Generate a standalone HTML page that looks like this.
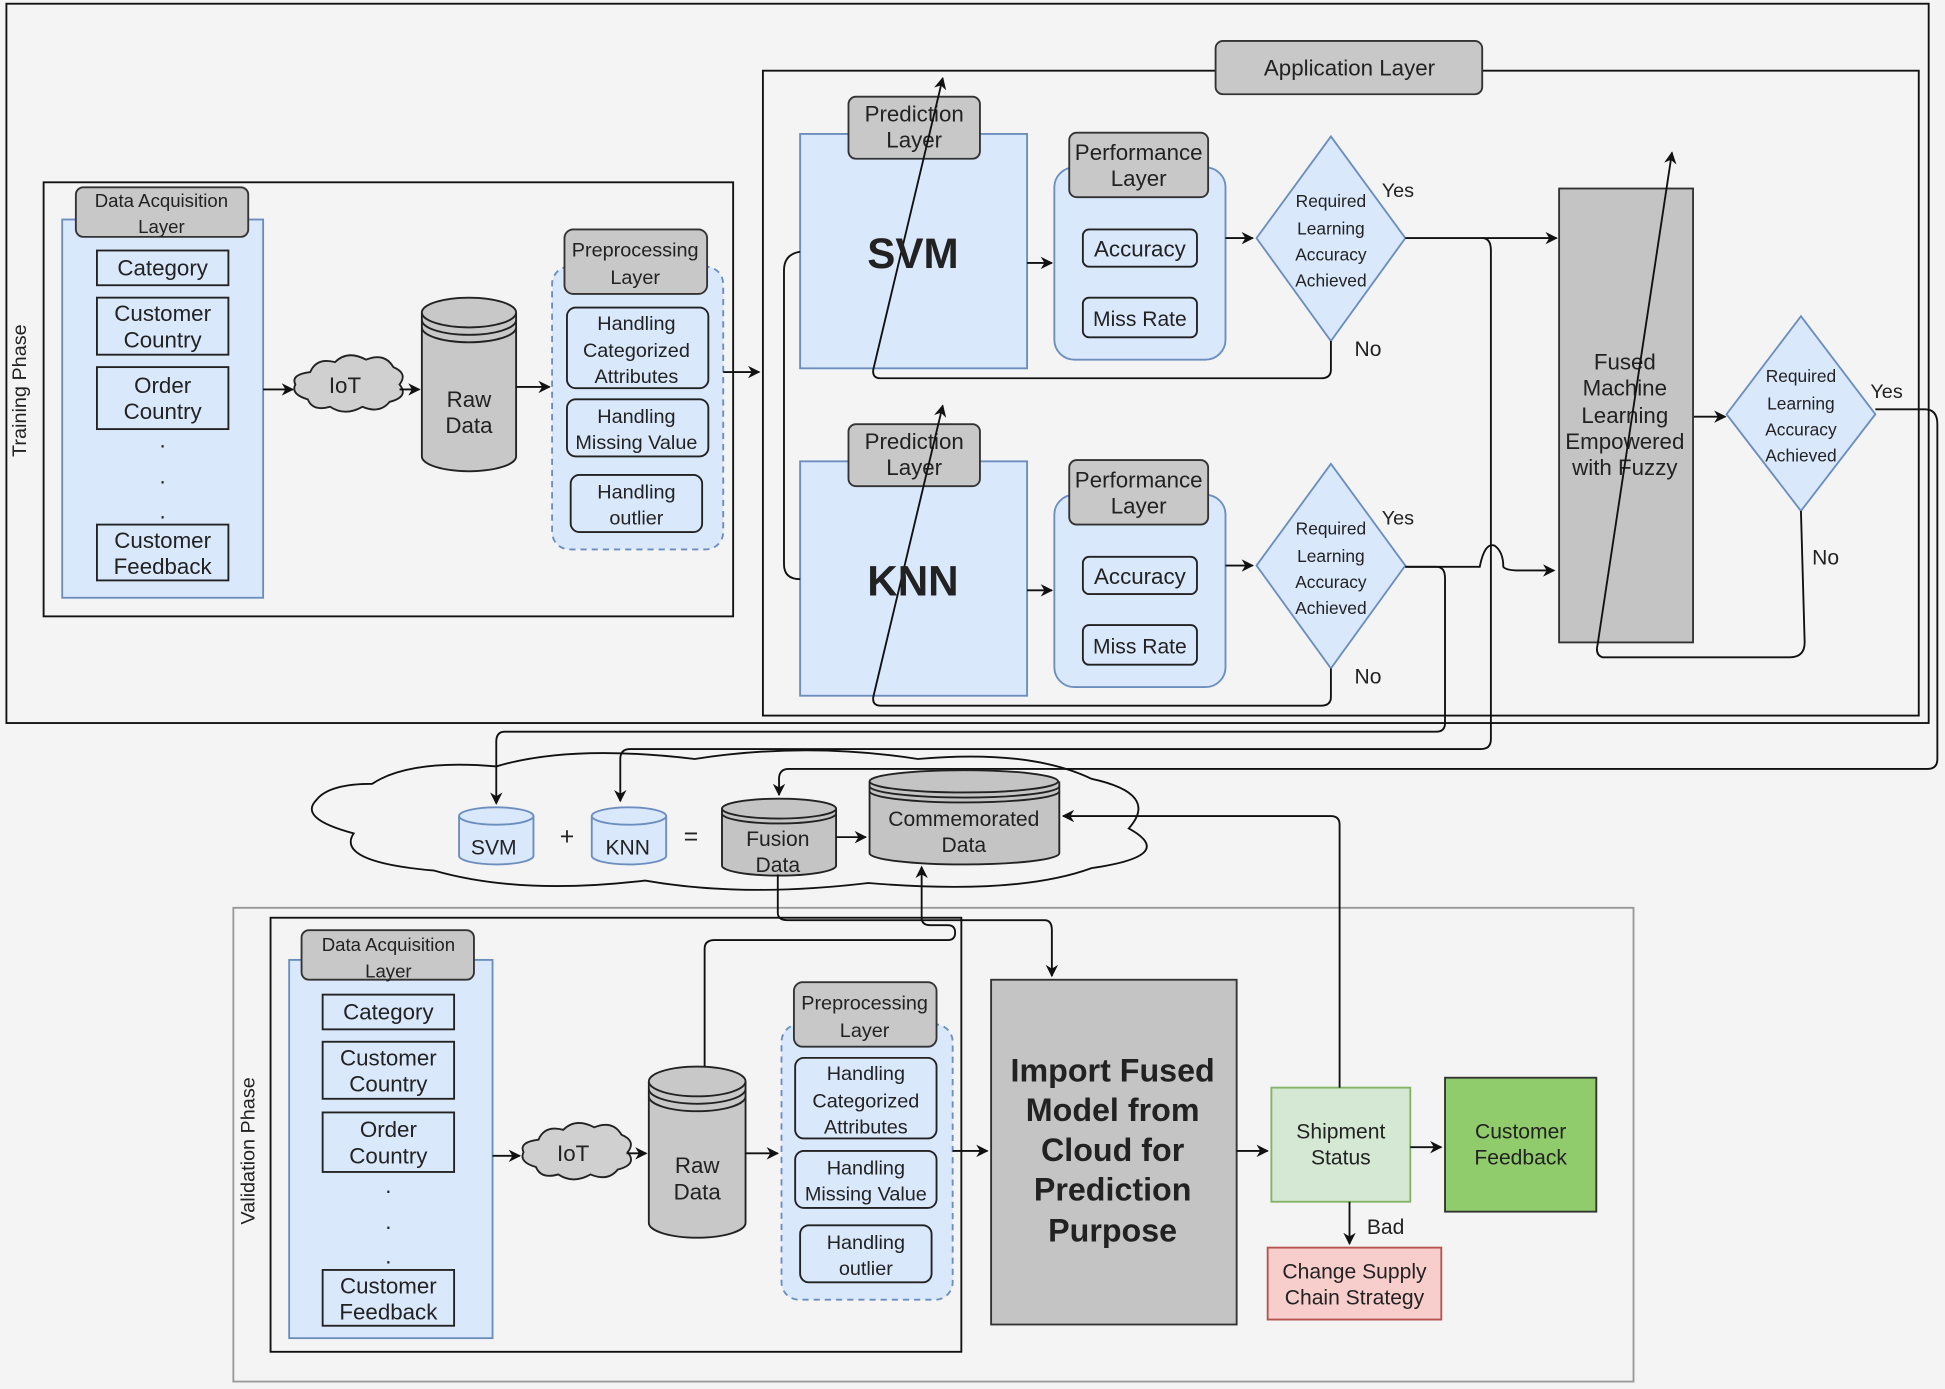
<!DOCTYPE html>
<html><head><meta charset="utf-8"><style>
html,body{margin:0;padding:0;background:#f4f4f4;}
svg{display:block}
text{font-family:"Liberation Sans",sans-serif;fill:#222;}
</style></head><body>
<svg width="1945" height="1389" viewBox="0 0 1568 1120" xmlns="http://www.w3.org/2000/svg">
<defs>
<marker id="a" markerWidth="10" markerHeight="10" refX="9" refY="5" orient="auto" markerUnits="userSpaceOnUse"><path d="M0,0 L10,5 L0,10 L3,5 Z" fill="#111"/></marker>
</defs>
<rect width="1568" height="1120" fill="#f4f4f4"/>
<!-- cloud (drawn first so connectors appear above) -->
<path d="M300,632 Q330,612 400,618 Q460,600 560,612 Q650,598 740,612 Q830,604 880,628 Q935,640 910,668 Q950,690 880,700 Q820,722 700,712 Q600,724 520,710 Q420,722 350,702 Q270,695 285,672 Q240,660 255,645 Q265,632 300,632Z" fill="#f4f4f4" stroke="#111" stroke-width="1.5"/>
<g stroke="#111" stroke-width="1.5" fill="none">
<rect x="5" y="3" width="1550" height="580"/>
<rect x="35" y="147" width="556" height="350"/>
<rect x="615" y="57" width="932" height="520"/>
</g>
<text x="21" y="315" font-size="16" text-anchor="middle" transform="rotate(-90 21 315)">Training Phase</text>

<!-- training data acquisition -->
<rect x="50" y="177" width="162" height="305" fill="#dae8fc" stroke="#6c8ebf" stroke-width="1.5"/>
<rect x="61" y="151" width="139" height="40" rx="6" fill="#c8c8c8" stroke="#333" stroke-width="1.5"/>
<text x="130" y="167" font-size="15" text-anchor="middle">Data Acquisition</text>
<text x="130" y="188" font-size="15" text-anchor="middle">Layer</text>
<g fill="#dae8fc" stroke="#222" stroke-width="1.5">
<rect x="78" y="202" width="106" height="28"/><rect x="78" y="240" width="106" height="46"/>
<rect x="78" y="296" width="106" height="50"/><rect x="78" y="423" width="106" height="45"/>
</g>
<g font-size="18" text-anchor="middle">
<text x="131" y="222">Category</text>
<text x="131" y="259">Customer</text><text x="131" y="280">Country</text>
<text x="131" y="317">Order</text><text x="131" y="338">Country</text>
<text x="131" y="361">.</text><text x="131" y="390">.</text><text x="131" y="418">.</text>
<text x="131" y="442">Customer</text><text x="131" y="463">Feedback</text>
</g>
<path d="M250,300 q5,-12 20,-8 q10,-10 25,-2 q15,-6 22,6 q12,5 5,14 q8,10 -8,14 q-8,10 -22,4 q-14,8 -26,0 q-14,4 -18,-6 q-14,-4 -10,-12 q-4,-8 12,-10z" fill="#d0d0d0" stroke="#222" stroke-width="1.5"/>
<text x="278" y="317" font-size="18" text-anchor="middle">IoT</text>
<path d="M340,252 v116 a38,12 0 0 0 76,0 v-116" fill="#c8c8c8" stroke="#222" stroke-width="1.5"/>
<ellipse cx="378" cy="252" rx="38" ry="12" fill="#c8c8c8" stroke="#222" stroke-width="1.5"/>
<path d="M340,258 a38,12 0 0 0 76,0 M340,264 a38,12 0 0 0 76,0" fill="none" stroke="#222" stroke-width="1.5"/>
<text x="378" y="328" font-size="18" text-anchor="middle">Raw</text><text x="378" y="349" font-size="18" text-anchor="middle">Data</text>
<rect x="445" y="215" width="138" height="228" rx="14" fill="#dae8fc" stroke="#6c8ebf" stroke-width="1.5" stroke-dasharray="5 4"/>
<rect x="455" y="185" width="115" height="52" rx="7" fill="#c8c8c8" stroke="#333" stroke-width="1.5"/>
<text x="512" y="207" font-size="16" text-anchor="middle">Preprocessing</text><text x="512" y="229" font-size="16" text-anchor="middle">Layer</text>
<g fill="#dae8fc" stroke="#222" stroke-width="1.5">
<rect x="457" y="248" width="114" height="65" rx="7"/><rect x="457" y="322" width="114" height="46" rx="7"/><rect x="460" y="383" width="106" height="46" rx="7"/>
</g>
<g font-size="16" text-anchor="middle">
<text x="513" y="266">Handling</text><text x="513" y="288">Categorized</text><text x="513" y="309">Attributes</text>
<text x="513" y="341">Handling</text><text x="513" y="362">Missing Value</text>
<text x="513" y="402">Handling</text><text x="513" y="423">outlier</text>
</g>
<g stroke="#111" stroke-width="1.5" fill="none">
<path d="M212,314 H236" marker-end="url(#a)"/><path d="M322,314 H338" marker-end="url(#a)"/>
<path d="M416,312 H443" marker-end="url(#a)"/>
</g>

<!-- application layer -->
<rect x="980" y="33" width="215" height="43" rx="6" fill="#c8c8c8" stroke="#333" stroke-width="1.5"/>
<text x="1088" y="61" font-size="18" text-anchor="middle">Application Layer</text>

<g id="row">
<rect x="645" y="108" width="183" height="189" fill="#dae8fc" stroke="#6c8ebf" stroke-width="1.5"/>
<rect x="684" y="78" width="106" height="50" rx="6" fill="#c8c8c8" stroke="#333" stroke-width="1.5"/>
<text x="737" y="98" font-size="18" text-anchor="middle">Prediction</text><text x="737" y="119" font-size="18" text-anchor="middle">Layer</text>
<rect x="850" y="135" width="138" height="155" rx="16" fill="#dae8fc" stroke="#6c8ebf" stroke-width="1.5"/>
<rect x="862" y="107" width="112" height="52" rx="6" fill="#c8c8c8" stroke="#333" stroke-width="1.5"/>
<text x="918" y="129" font-size="18" text-anchor="middle">Performance</text><text x="918" y="150" font-size="18" text-anchor="middle">Layer</text>
<rect x="873" y="185" width="92" height="30" rx="5" fill="#dae8fc" stroke="#222" stroke-width="1.5"/>
<rect x="873" y="240" width="92" height="32" rx="5" fill="#dae8fc" stroke="#222" stroke-width="1.5"/>
<text x="919" y="207" font-size="18" text-anchor="middle">Accuracy</text><text x="919" y="263" font-size="17" text-anchor="middle">Miss Rate</text>
<polygon points="1073,110 1133,192 1073,275 1013,192" fill="#dae8fc" stroke="#6c8ebf" stroke-width="1.5"/>
<g font-size="14" text-anchor="middle"><text x="1073" y="167">Required</text><text x="1073" y="189">Learning</text><text x="1073" y="210">Accuracy</text><text x="1073" y="231">Achieved</text></g>
<text x="1114" y="159" font-size="16">Yes</text><text x="1092" y="287" font-size="17">No</text>
<g stroke="#111" stroke-width="1.5" fill="none">
<path d="M828,212 H848" marker-end="url(#a)"/><path d="M988,192 H1010" marker-end="url(#a)"/>
<path d="M1073,275 V298 Q1073,305 1065,305 H710 Q703,305 704,298 L760,63" marker-end="url(#a)"/>
</g>
</g>
<use href="#row" y="264"/>
<text x="736" y="216" font-size="34" font-weight="bold" text-anchor="middle">SVM</text>
<text x="736" y="480" font-size="34" font-weight="bold" text-anchor="middle">KNN</text>

<g stroke="#111" stroke-width="1.5" fill="none">
<path d="M583,300 H612" marker-end="url(#a)"/>
<path d="M645,203 Q632,205 632,218 V455 Q632,467 645,467"/>
<path d="M1133,192 H1255" marker-end="url(#a)"/>
<path d="M1195,192 Q1202,192 1202,202 V596 Q1202,604 1194,604 H508 Q500,604 500,612 V646" marker-end="url(#a)"/>
<path d="M1133,457 H1193 Q1197,437 1205,440 Q1212,445 1212,457 Q1214,460 1225,460 H1253" marker-end="url(#a)"/>
<path d="M1133,457 H1158 Q1165,457 1165,466 V583 Q1165,590 1158,590 H407 Q400,590 400,598 V648" marker-end="url(#a)"/>
<path d="M1365,336 H1391" marker-end="url(#a)"/>
<path d="M1512,330 H1552 Q1562,330 1562,342 V612 Q1562,620 1554,620 H636 Q628,620 628,628 V641" marker-end="url(#a)"/>
</g>
<rect x="1257" y="152" width="108" height="366" fill="#c4c4c4" stroke="#333" stroke-width="1.5"/>
<g font-size="18" text-anchor="middle"><text x="1310" y="298">Fused</text><text x="1310" y="319">Machine</text><text x="1310" y="341">Learning</text><text x="1310" y="362">Empowered</text><text x="1310" y="383">with Fuzzy</text></g>
<polygon points="1452,255 1512,334 1452,412 1392,334" fill="#dae8fc" stroke="#6c8ebf" stroke-width="1.5"/>
<g font-size="14" text-anchor="middle"><text x="1452" y="308">Required</text><text x="1452" y="330">Learning</text><text x="1452" y="351">Accuracy</text><text x="1452" y="372">Achieved</text></g>
<text x="1508" y="321" font-size="16">Yes</text><text x="1461" y="455" font-size="17">No</text>
<g stroke="#111" stroke-width="1.5" fill="none">
<path d="M1452,412 L1455,518 Q1455,530 1443,530 L1292,530 Q1286,528 1288,520 L1348,123" marker-end="url(#a)"/>
</g>

<g stroke-width="1.5">
<path d="M370,658 v32 a30,7 0 0 0 60,0 v-32" fill="#dae8fc" stroke="#6c8ebf"/><ellipse cx="400" cy="658" rx="30" ry="7" fill="#dae8fc" stroke="#6c8ebf"/>
<path d="M477,658 v32 a30,7 0 0 0 60,0 v-32" fill="#dae8fc" stroke="#6c8ebf"/><ellipse cx="507" cy="658" rx="30" ry="7" fill="#dae8fc" stroke="#6c8ebf"/>
<path d="M582,652 v46 a46,8 0 0 0 92,0 v-46" fill="#c4c4c4" stroke="#222"/><ellipse cx="628" cy="652" rx="46" ry="8" fill="#c4c4c4" stroke="#222"/>
<path d="M582,656 a46,8 0 0 0 92,0" fill="none" stroke="#222"/>
<path d="M701,630 v58 a76,9 0 0 0 153,0 v-58" fill="#c4c4c4" stroke="#222"/><ellipse cx="777" cy="630" rx="76" ry="9" fill="#c4c4c4" stroke="#222"/>
<path d="M701,634 a76,9 0 0 0 153,0 M701,638 a76,9 0 0 0 153,0" fill="none" stroke="#222"/>
</g>
<text x="398" y="689" font-size="17" text-anchor="middle">SVM</text>
<text x="506" y="689" font-size="17" text-anchor="middle">KNN</text>
<text x="457" y="681" font-size="20" text-anchor="middle">+</text>
<text x="557" y="681" font-size="20" text-anchor="middle">=</text>
<text x="627" y="682" font-size="17" text-anchor="middle">Fusion</text><text x="627" y="703" font-size="17" text-anchor="middle">Data</text>
<text x="777" y="666" font-size="17" text-anchor="middle">Commemorated</text><text x="777" y="687" font-size="17" text-anchor="middle">Data</text>
<path d="M674,675 H698" stroke="#111" stroke-width="1.5" marker-end="url(#a)"/>

<!-- validation -->
<rect x="188" y="732" width="1129" height="382" fill="none" stroke="#999" stroke-width="1.5"/>
<rect x="218" y="740" width="557" height="350" fill="none" stroke="#111" stroke-width="1.5"/>
<text x="205" y="928" font-size="16" text-anchor="middle" transform="rotate(-90 205 928)">Validation Phase</text>
<rect x="233" y="774" width="164" height="305" fill="#dae8fc" stroke="#6c8ebf" stroke-width="1.5"/>
<rect x="243" y="750" width="139" height="40" rx="6" fill="#c8c8c8" stroke="#333" stroke-width="1.5"/>
<text x="313" y="767" font-size="15" text-anchor="middle">Data Acquisition</text><text x="313" y="788" font-size="15" text-anchor="middle">Layer</text>
<g fill="#dae8fc" stroke="#222" stroke-width="1.5">
<rect x="260" y="802" width="106" height="28"/><rect x="260" y="840" width="106" height="46"/>
<rect x="260" y="897" width="106" height="48"/><rect x="260" y="1024" width="106" height="45"/>
</g>
<g font-size="18" text-anchor="middle">
<text x="313" y="822">Category</text>
<text x="313" y="859">Customer</text><text x="313" y="880">Country</text>
<text x="313" y="917">Order</text><text x="313" y="938">Country</text>
<text x="313" y="962">.</text><text x="313" y="991">.</text><text x="313" y="1019">.</text>
<text x="313" y="1043">Customer</text><text x="313" y="1064">Feedback</text>
</g>
<path d="M434,919 q5,-12 20,-8 q10,-10 25,-2 q15,-6 22,6 q12,5 5,14 q8,10 -8,14 q-8,10 -22,4 q-14,8 -26,0 q-14,4 -18,-6 q-14,-4 -10,-12 q-4,-8 12,-10z" fill="#d0d0d0" stroke="#222" stroke-width="1.5"/>
<text x="462" y="936" font-size="18" text-anchor="middle">IoT</text>
<path d="M523,872 v114 a39,12 0 0 0 78,0 v-114" fill="#c8c8c8" stroke="#222" stroke-width="1.5"/>
<ellipse cx="562" cy="872" rx="39" ry="12" fill="#c8c8c8" stroke="#222" stroke-width="1.5"/>
<path d="M523,878 a39,12 0 0 0 78,0 M523,884 a39,12 0 0 0 78,0" fill="none" stroke="#222" stroke-width="1.5"/>
<text x="562" y="946" font-size="18" text-anchor="middle">Raw</text><text x="562" y="967" font-size="18" text-anchor="middle">Data</text>
<rect x="630" y="826" width="138" height="222" rx="14" fill="#dae8fc" stroke="#6c8ebf" stroke-width="1.5" stroke-dasharray="5 4"/>
<rect x="640" y="792" width="115" height="52" rx="7" fill="#c8c8c8" stroke="#333" stroke-width="1.5"/>
<text x="697" y="814" font-size="16" text-anchor="middle">Preprocessing</text><text x="697" y="836" font-size="16" text-anchor="middle">Layer</text>
<g fill="#dae8fc" stroke="#222" stroke-width="1.5">
<rect x="641" y="853" width="114" height="65" rx="7"/><rect x="641" y="928" width="114" height="46" rx="7"/><rect x="645" y="988" width="106" height="46" rx="7"/>
</g>
<g font-size="16" text-anchor="middle">
<text x="698" y="871">Handling</text><text x="698" y="893">Categorized</text><text x="698" y="914">Attributes</text>
<text x="698" y="947">Handling</text><text x="698" y="968">Missing Value</text>
<text x="698" y="1007">Handling</text><text x="698" y="1028">outlier</text>
</g>
<rect x="799" y="790" width="198" height="278" fill="#c4c4c4" stroke="#333" stroke-width="1.5"/>
<g font-size="26" font-weight="bold" text-anchor="middle"><text x="897" y="872">Import Fused</text><text x="897" y="904">Model from</text><text x="897" y="936">Cloud for</text><text x="897" y="968">Prediction</text><text x="897" y="1001">Purpose</text></g>
<rect x="1025" y="877" width="112" height="92" fill="#d5e8d4" stroke="#82b366" stroke-width="1.5"/>
<text x="1081" y="918" font-size="17" text-anchor="middle">Shipment</text><text x="1081" y="939" font-size="17" text-anchor="middle">Status</text>
<rect x="1165" y="869" width="122" height="108" fill="#90cc6c" stroke="#333" stroke-width="1.5"/>
<text x="1226" y="918" font-size="17" text-anchor="middle">Customer</text><text x="1226" y="939" font-size="17" text-anchor="middle">Feedback</text>
<rect x="1022" y="1006" width="140" height="58" fill="#f8cecc" stroke="#b85450" stroke-width="1.5"/>
<text x="1092" y="1031" font-size="17" text-anchor="middle">Change Supply</text><text x="1092" y="1052" font-size="17" text-anchor="middle">Chain Strategy</text>
<text x="1102" y="995" font-size="17">Bad</text>
<g stroke="#111" stroke-width="1.5" fill="none">
<path d="M397,932 H419" marker-end="url(#a)"/><path d="M505,930 H521" marker-end="url(#a)"/>
<path d="M601,930 H627" marker-end="url(#a)"/><path d="M768,928 H796" marker-end="url(#a)"/>
<path d="M997,928 H1022" marker-end="url(#a)"/><path d="M1137,925 H1162" marker-end="url(#a)"/>
<path d="M1088,969 V1003" marker-end="url(#a)"/>
<path d="M1080,877 V665 Q1080,658 1073,658 H857" marker-end="url(#a)"/>
<path d="M627,705 V736 Q627,742 635,742 H842 Q848,742 848,750 V787" marker-end="url(#a)"/>
<path d="M568,860 V765 Q568,758 576,758 H764 Q770,758 770,752 Q770,746 764,746 H750 Q743,746 743,740 V699" marker-end="url(#a)"/>
</g>
</svg>
</body></html>
